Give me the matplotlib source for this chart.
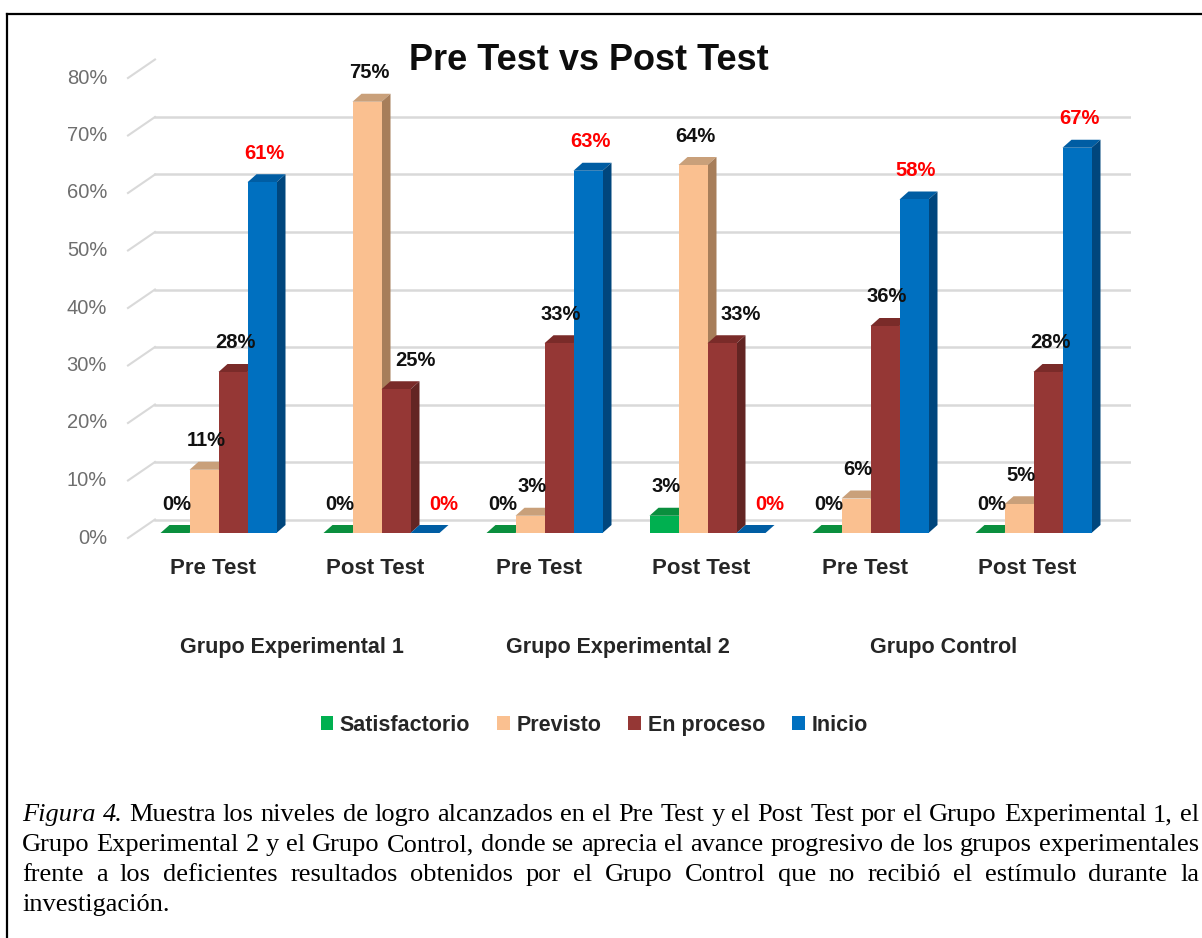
import numpy as np
import matplotlib
matplotlib.use("Agg")
import matplotlib.pyplot as plt
import matplotlib.transforms as mtransforms
from matplotlib.patches import Polygon, Patch
from matplotlib.lines import Line2D

# ---------------- data ----------------
categories = ["Pre Test", "Post Test", "Pre Test", "Post Test", "Pre Test", "Post Test"]
groups = ["Grupo Experimental 1", "Grupo Experimental 2", "Grupo Control"]
series_names = ["Satisfactorio", "Previsto", "En proceso", "Inicio"]
satisfactorio = [0, 0, 0, 3, 0, 0]
previsto = [11, 75, 3, 64, 6, 5]
en_proceso = [28, 25, 33, 33, 36, 28]
inicio = [61, 0, 63, 0, 58, 67]
yticks = [0, 10, 20, 30, 40, 50, 60, 70, 80]
title = "Pre Test vs Post Test"
caption_lines = [
    "Figura 4. Muestra los niveles de logro alcanzados en el Pre Test y el Post Test por el Grupo Experimental 1, el",
    "Grupo Experimental 2 y el Grupo Control, donde se aprecia el avance progresivo de los grupos experimentales",
    "frente a los deficientes resultados obtenidos por el Grupo Control que no recibió el estímulo durante la",
    "investigación.",
]

# ---------------- styling ----------------
W, H = 1202, 938
SANS = ["Liberation Sans", "DejaVu Sans"]
SERIF = ["Liberation Serif", "DejaVu Serif"]
front_c = ["#00b050", "#fac090", "#953735", "#0070c0"]
top_c = ["#0a8f3e", "#c9a07a", "#7a2b29", "#005da3"]
side_c = ["#067a35", "#a77e5a", "#632523", "#00467d"]
label_c = ["#111111", "#111111", "#111111", "#ff0000"]
DX, DY = 9, 8            # depth of the 3-D bars (pixels)

fig = plt.figure(figsize=(W / 100, H / 100), dpi=100)
fig.patch.set_facecolor("white")

# axes: y=0 at px 533, y=80 at px 73 ; x from px 128 to 1131
ax_left, ax_right, ax_bot, ax_top = 128, 1131, 533, 73
ax = fig.add_axes([ax_left / W, (H - ax_bot) / H, (ax_right - ax_left) / W, (ax_bot - ax_top) / H])
ax.set_ylim(0, 80)
spacing = 163.0
c0 = 218.5
ax.set_xlim((ax_left - c0) / spacing, (ax_right - c0) / spacing)
ax.set_facecolor("none")
for s in ax.spines.values():
    s.set_visible(False)
ax.set_xticks([])
ax.set_yticks([])

ident = mtransforms.IdentityTransform()
blend = mtransforms.blended_transform_factory(ax.transAxes, ax.transData)
back_tr = blend + mtransforms.ScaledTranslation(0, 13.5 / 100, fig.dpi_scale_trans)
front_tr = blend + mtransforms.ScaledTranslation(0, -5 / 100, fig.dpi_scale_trans)
bx = 27 / (ax_right - ax_left)

# gridlines on the back wall plus the left floor/wall diagonals
for v in yticks:
    ax.add_line(Line2D([bx, 1.0], [v, v], transform=back_tr, color="#d9d9d9", lw=1.8, zorder=1))
    p_front = front_tr.transform((0, v))
    p_back = back_tr.transform((bx, v))
    ax.add_line(Line2D([p_front[0], p_back[0]], [p_front[1], p_back[1]], transform=ident,
                       color="#d9d9d9", lw=1.5, zorder=1, clip_on=False))
    ax.text(0, v, f"{v}%", transform=mtransforms.offset_copy(blend, fig=fig, x=-21, y=-5, units="dots"),
            ha="right", va="center", fontsize=14.5, color="#6e6e6e", family=SANS)

# bars
series = [satisfactorio, previsto, en_proceso, inicio]
n = len(categories)
idx = np.arange(n)
bw = 29 / spacing
for j, vals in enumerate(series):
    xs = idx + (j - 1.5) * bw
    bars = ax.bar(xs, vals, width=bw, color=front_c[j], linewidth=0, label=series_names[j])
    for i, (b, x, v) in enumerate(zip(bars, xs, vals)):
        z = 3 + i * 0.1 + j * 0.01
        b.set_zorder(z + 0.005)
        pxl, py0 = ax.transData.transform((x - bw / 2, 0))
        pxr, pyv = ax.transData.transform((x + bw / 2, v))
        top = [(pxl, pyv), (pxr, pyv), (pxr + DX, pyv + DY), (pxl + DX, pyv + DY)]
        side = [(pxr, py0), (pxr + DX, py0 + DY), (pxr + DX, pyv + DY), (pxr, pyv)]
        ax.add_patch(Polygon(top, closed=True, transform=ident, fc=top_c[j], ec="none", zorder=z, clip_on=False))
        ax.add_patch(Polygon(side, closed=True, transform=ident, fc=side_c[j], ec="none", zorder=z, clip_on=False))
        # data label: nudge right when the bar to its left is taller
        prev = series[j - 1][i] if j > 0 else None
        dxl = 19 if (prev is not None and prev > v) else 2
        ax.text(x, v, f"{v}%", transform=mtransforms.offset_copy(ax.transData, fig=fig, x=dxl, y=29, units="dots"),
                ha="center", va="center", fontsize=14.5, fontweight="bold", color=label_c[j],
                family=SANS, zorder=20)

# category labels
for i, cat in enumerate(categories):
    ax.text(i, 0, cat, transform=mtransforms.offset_copy(ax.transData, fig=fig, x=-6, y=-35, units="dots"),
            ha="center", va="center", fontsize=16, fontweight="bold", color="#262626", family=SANS)
# group labels
for g, name in enumerate(groups):
    ax.text(2 * g + 0.5, 0, name, transform=mtransforms.offset_copy(ax.transData, fig=fig, x=-8, y=-115, units="dots"),
            ha="center", va="center", fontsize=15.5, fontweight="bold", color="#262626", family=SANS)

# legend
handles = [Patch(facecolor=front_c[j], edgecolor="none") for j in range(4)]
leg = fig.legend(handles, series_names, loc="center", bbox_to_anchor=(594 / W, 1 - 725 / H), ncol=4,
                 frameon=False, handlelength=0.6, handleheight=0.6, handletextpad=0.3, columnspacing=1.25,
                 prop={"family": SANS, "weight": "bold", "size": 15.5})
for t in leg.get_texts():
    t.set_color("#262626")

# title
fig.text(589 / W, 1 - 70 / H, title, ha="center", va="baseline", fontsize=26, fontweight="bold",
         color="#0d0d0d", family=SANS)

# frame lines
fig.add_artist(Line2D([7 / W, 1.0], [1 - 14 / H, 1 - 14 / H], transform=fig.transFigure, color="black", lw=1.6))
fig.add_artist(Line2D([7 / W, 7 / W], [0, 1 - 14 / H], transform=fig.transFigure, color="black", lw=1.6))

# caption (justified)
renderer = fig.canvas.get_renderer()


def measure(s, style, size):
    t = fig.text(0, 0, s, family=SERIF, style=style, fontsize=size)
    w = t.get_window_extent(renderer).width
    t.remove()
    return w


cap_left, cap_right = 22, 1199
base_size = 16.0
w2 = measure(caption_lines[1], "normal", base_size)
size = base_size * (cap_right - cap_left - 6) / w2
space_w = measure("x x", "normal", size) - measure("xx", "normal", size)
for k, line in enumerate(caption_lines):
    words = line.split(" ")
    styles = ["italic" if (k == 0 and wi < 2) else "normal" for wi in range(len(words))]
    widths = [measure(wd, st, size) for wd, st in zip(words, styles)]
    if k < len(caption_lines) - 1 and len(words) > 1:
        gap = (cap_right - cap_left - sum(widths)) / (len(words) - 1)
    else:
        gap = space_w
    x = cap_left
    ybase = 1 - (821 + 30.0 * k) / H
    for wd, st, w in zip(words, styles, widths):
        fig.text(x / W, ybase, wd, family=SERIF, style=st, fontsize=size, ha="left", va="baseline", color="black")
        x += w + gap

fig.savefig("out.png", dpi=100)
